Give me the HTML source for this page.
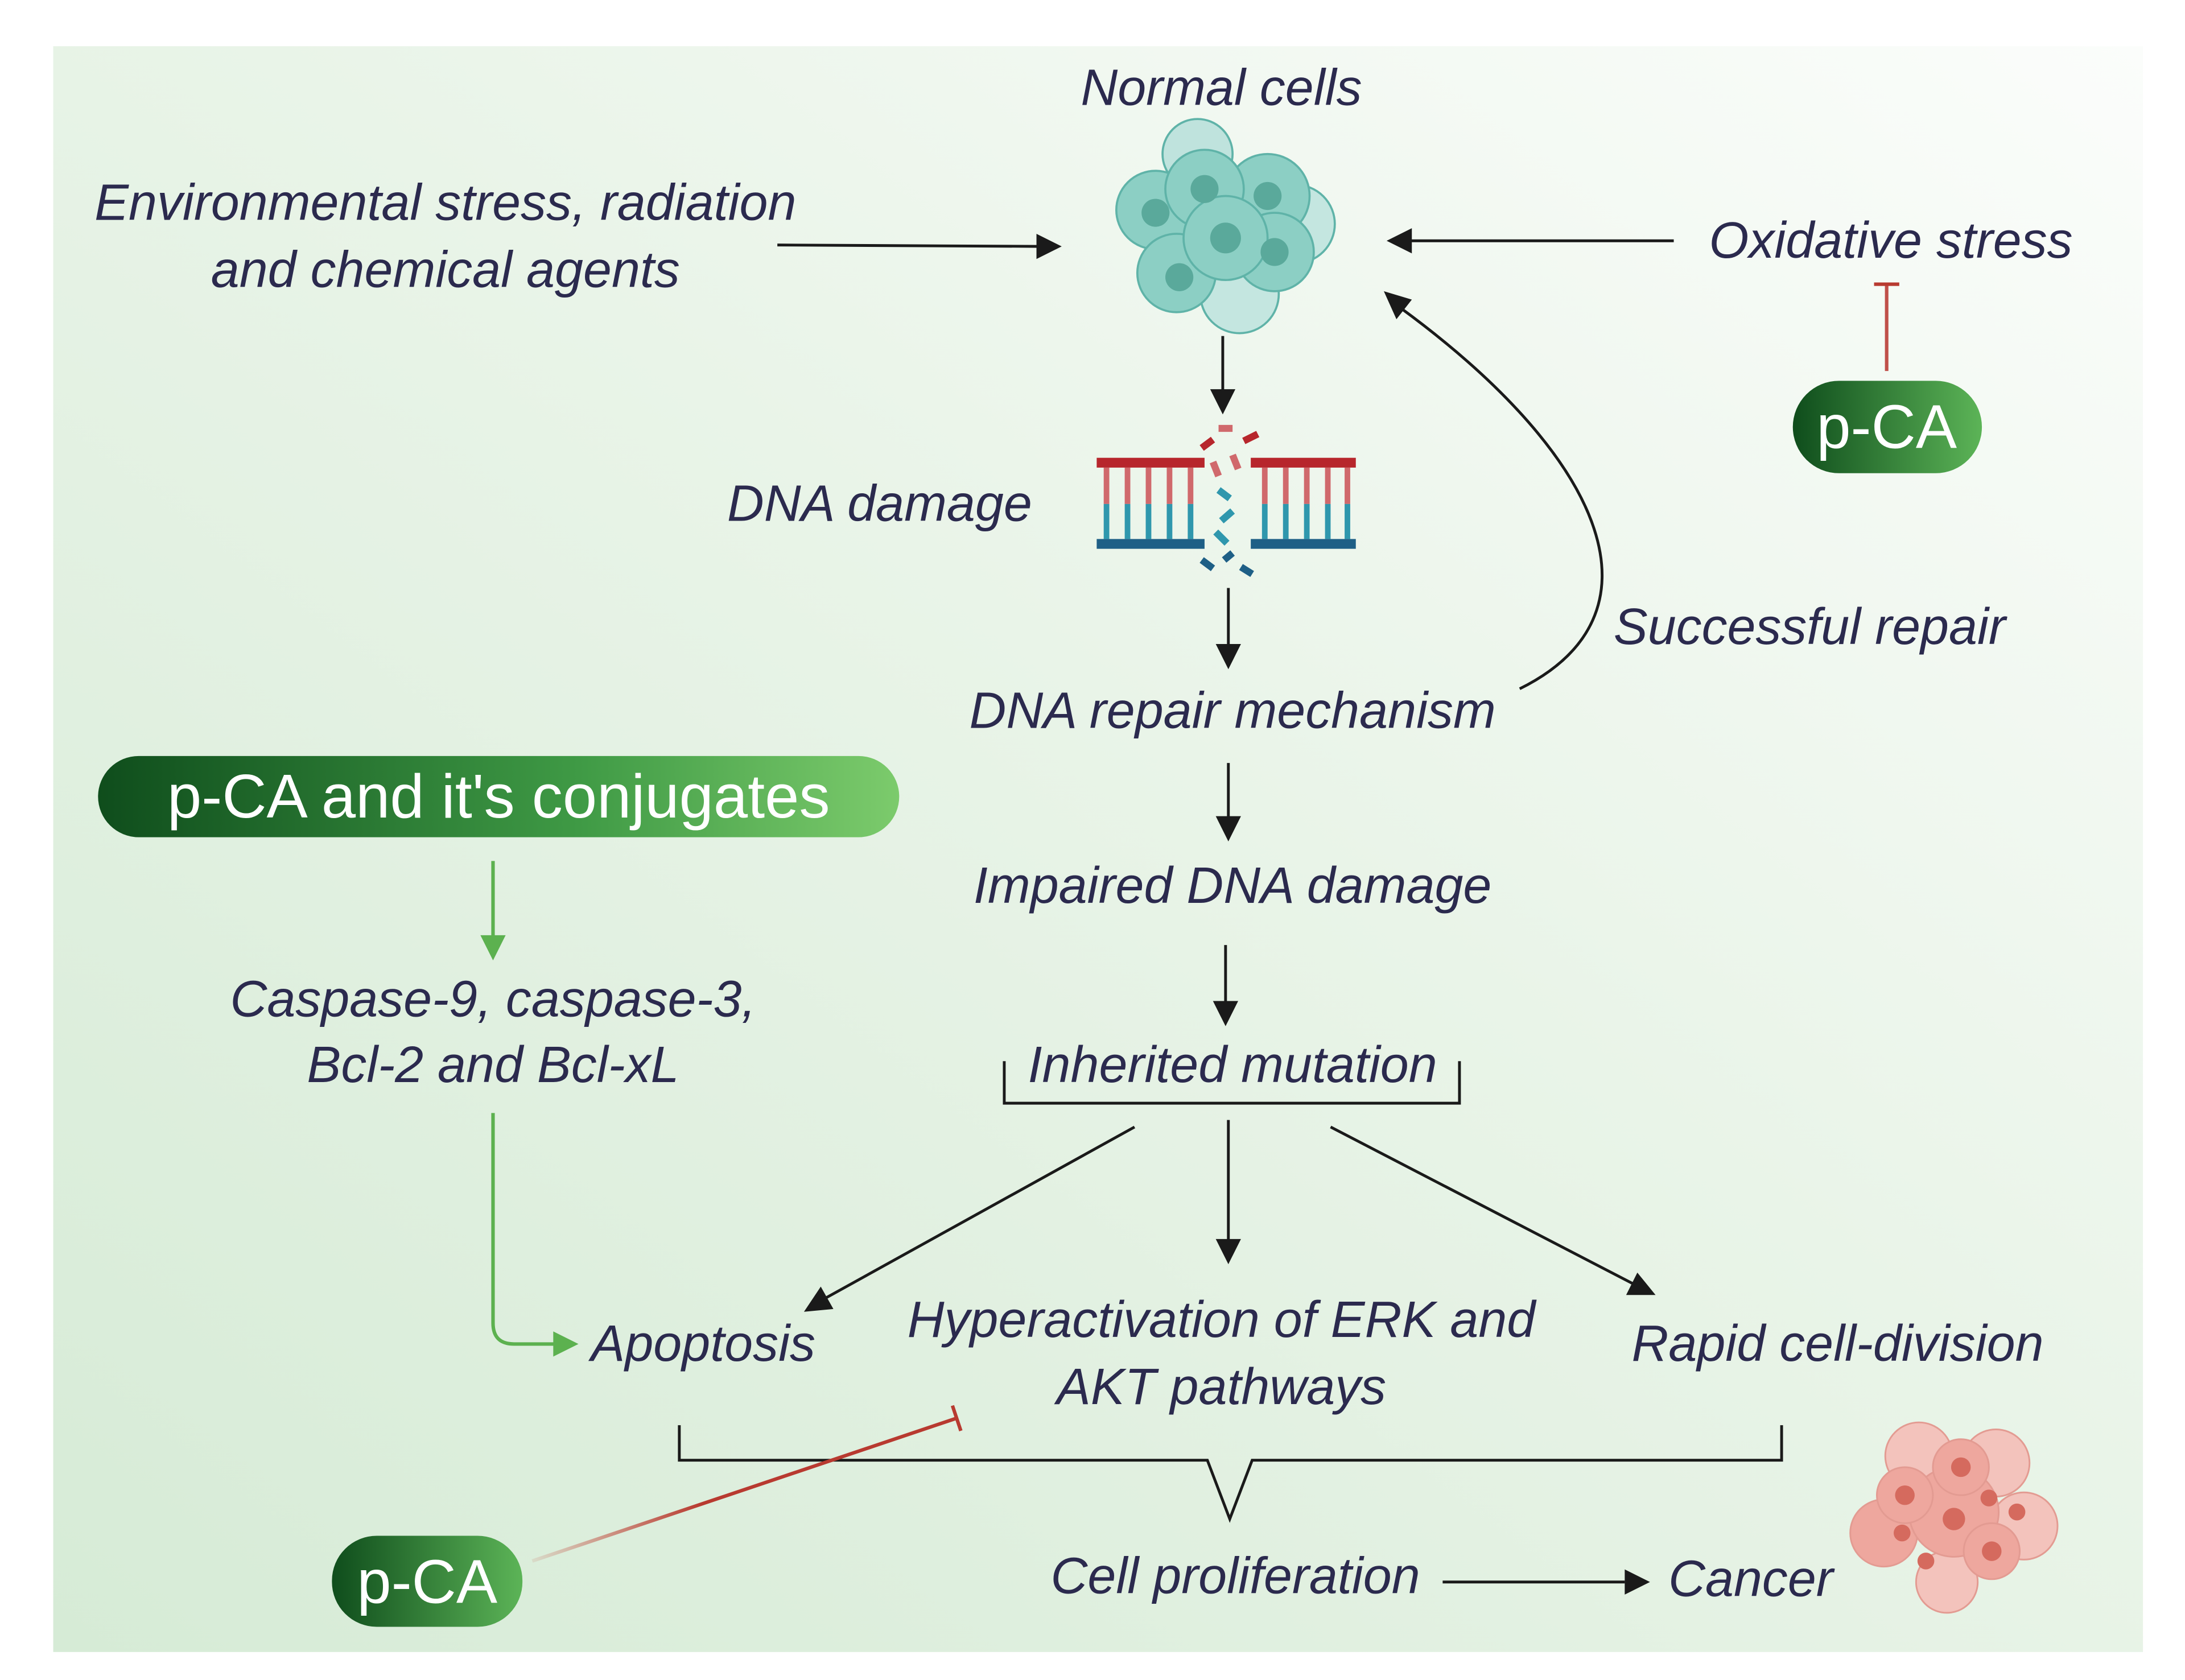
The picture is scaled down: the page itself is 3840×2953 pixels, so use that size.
<!DOCTYPE html>
<html><head><meta charset="utf-8"><style>
html,body{margin:0;padding:0;background:#fff}
svg{display:block}
text{font-family:"Liberation Sans",sans-serif}
.t{font-style:italic;fill:#2b2a4e;font-size:36.5px;text-anchor:middle}
.p{fill:#fff;font-size:44px;text-anchor:middle}
</style></head><body>
<svg width="3840" height="2953" viewBox="0 0 1560 1200" preserveAspectRatio="none" xmlns="http://www.w3.org/2000/svg">
<defs>
<linearGradient id="bg" x1="0" y1="1" x2="1" y2="0">
<stop offset="0" stop-color="#d6ebd6"/><stop offset="0.55" stop-color="#e9f4e8"/><stop offset="1" stop-color="#fbfdfb"/>
</linearGradient>
<linearGradient id="pill" x1="0" y1="0" x2="1" y2="0">
<stop offset="0" stop-color="#0f4d1c"/><stop offset="0.6" stop-color="#3f9a45"/><stop offset="1" stop-color="#7ccb6c"/>
</linearGradient>
<linearGradient id="pill2" x1="0" y1="0" x2="1" y2="0">
<stop offset="0" stop-color="#0f4d1c"/><stop offset="1" stop-color="#5cb457"/>
</linearGradient>
<linearGradient id="red" x1="380" y1="1115" x2="683" y2="1013" gradientUnits="userSpaceOnUse">
<stop offset="0" stop-color="#c0392b" stop-opacity="0.1"/><stop offset="0.4" stop-color="#b83a30"/><stop offset="1" stop-color="#b83a30"/>
</linearGradient>
</defs>
<rect x="38" y="33" width="1492" height="1147" fill="url(#bg)"/>

<g stroke="#1a1a1a" stroke-width="2" fill="none">
<line x1="555" y1="175" x2="742" y2="176"/>
<line x1="1195" y1="172" x2="1006" y2="172"/>
<line x1="873" y1="240" x2="873" y2="280"/>
<line x1="877" y1="420" x2="877" y2="462"/>
<line x1="877" y1="545" x2="877" y2="585"/>
<line x1="875" y1="675" x2="875" y2="717"/>
<line x1="877" y1="800" x2="877" y2="887"/>
<line x1="810" y1="805" x2="588" y2="928"/>
<line x1="950" y1="805" x2="1166" y2="917"/>
<line x1="1030" y1="1130" x2="1160" y2="1130"/>
<path d="M1085,492 C1190,440 1150,330 1000,220"/>
<path d="M717,758 V788 H1042 V758"/>
<path d="M485,1018 V1043 H862 L878,1085 L894,1043 H1272 V1018"/>
</g>
<g fill="#1a1a1a">
<polygon points="758,176 740,167 740,185"/>
<polygon points="990,172 1008,163 1008,181"/>
<polygon points="873,296 864,278 882,278"/>
<polygon points="877,478 868,460 886,460"/>
<polygon points="877,601 868,583 886,583"/>
<polygon points="875,733 866,715 884,715"/>
<polygon points="877,903 868,885 886,885"/>
<polygon points="574,937 586,919 595,935"/>
<polygon points="1182,925 1161,925 1169,909"/>
<polygon points="1178,1130 1160,1121 1160,1139"/>
<polygon points="988,208 1008,214 997,228"/>
</g>

<g stroke="#5cb14f" stroke-width="2.5" fill="none">
<line x1="352" y1="615" x2="352" y2="670"/>
<path d="M352,795 V945 Q352,960 367,960 H397"/>
</g>
<g fill="#5cb14f">
<polygon points="352,686 343,668 361,668"/>
<polygon points="413,960 395,951 395,969"/>
</g>

<line x1="380" y1="1115" x2="683" y2="1013" stroke="url(#red)" stroke-width="2.5"/>
<line x1="680" y1="1004" x2="686" y2="1022" stroke="#b83a30" stroke-width="2.5"/>
<line x1="1347" y1="203" x2="1347" y2="265" stroke="#c0504a" stroke-width="2.5"/>
<line x1="1338" y1="203" x2="1356" y2="203" stroke="#b83a30" stroke-width="2.5"/>

<rect x="1280" y="272" width="135" height="66" rx="33" fill="url(#pill2)"/>
<text class="p" x="1347" y="320">p-CA</text>
<rect x="70" y="540" width="572" height="58" rx="29" fill="url(#pill)"/>
<text class="p" x="356" y="584">p-CA and it's conjugates</text>
<rect x="237" y="1097" width="136" height="65" rx="32" fill="url(#pill2)"/>
<text class="p" x="305" y="1145">p-CA</text>

<g stroke="#5fb3a8" stroke-width="1.5">
<circle cx="855" cy="110" r="25" fill="#bfe3dd"/>
<circle cx="925" cy="160" r="28" fill="#c4e6e0"/>
<circle cx="885" cy="210" r="28" fill="#c4e6e0"/>
<circle cx="825" cy="150" r="28" fill="#8ccfc4"/>
<circle cx="905" cy="140" r="30" fill="#8ccfc4"/>
<circle cx="860" cy="135" r="28" fill="#8ccfc4"/>
<circle cx="910" cy="180" r="28" fill="#8ccfc4"/>
<circle cx="840" cy="195" r="28" fill="#8ccfc4"/>
<circle cx="875" cy="170" r="30" fill="#8ccfc4"/>
</g>
<g fill="#5aa99b">
<circle cx="860" cy="135" r="10"/><circle cx="905" cy="140" r="10"/><circle cx="825" cy="152" r="10"/>
<circle cx="875" cy="170" r="11"/><circle cx="910" cy="180" r="10"/><circle cx="842" cy="198" r="10"/>
</g>

<g>
<rect x="783" y="327" width="77" height="7" fill="#b7262c"/>
<rect x="893" y="327" width="75" height="7" fill="#b7262c"/>
<rect x="783" y="385" width="77" height="7" fill="#1e5f86"/>
<rect x="893" y="385" width="75" height="7" fill="#1e5f86"/>
<g stroke-width="4">
<g stroke="#d0696c">
<line x1="790" y1="334" x2="790" y2="360"/><line x1="805" y1="334" x2="805" y2="360"/><line x1="820" y1="334" x2="820" y2="360"/><line x1="835" y1="334" x2="835" y2="360"/><line x1="850" y1="334" x2="850" y2="360"/>
<line x1="903" y1="334" x2="903" y2="360"/><line x1="918" y1="334" x2="918" y2="360"/><line x1="933" y1="334" x2="933" y2="360"/><line x1="948" y1="334" x2="948" y2="360"/><line x1="962" y1="334" x2="962" y2="360"/>
</g>
<g stroke="#2f97ad">
<line x1="790" y1="360" x2="790" y2="385"/><line x1="805" y1="360" x2="805" y2="385"/><line x1="820" y1="360" x2="820" y2="385"/><line x1="835" y1="360" x2="835" y2="385"/><line x1="850" y1="360" x2="850" y2="385"/>
<line x1="903" y1="360" x2="903" y2="385"/><line x1="918" y1="360" x2="918" y2="385"/><line x1="933" y1="360" x2="933" y2="385"/><line x1="948" y1="360" x2="948" y2="385"/><line x1="962" y1="360" x2="962" y2="385"/>
</g>
</g>
<g stroke-width="5">
<line x1="858" y1="320" x2="866" y2="314" stroke="#b7262c"/><line x1="870" y1="306" x2="880" y2="306" stroke="#d0696c"/><line x1="888" y1="315" x2="898" y2="310" stroke="#b7262c"/>
<line x1="866" y1="330" x2="870" y2="340" stroke="#d0696c"/><line x1="880" y1="325" x2="884" y2="335" stroke="#d0696c"/>
<line x1="870" y1="350" x2="878" y2="356" stroke="#2f97ad"/><line x1="880" y1="365" x2="872" y2="372" stroke="#2f97ad"/><line x1="868" y1="380" x2="876" y2="388" stroke="#2f97ad"/>
<line x1="858" y1="400" x2="866" y2="406" stroke="#1e5f86"/><line x1="874" y1="400" x2="880" y2="395" stroke="#1e5f86"/><line x1="886" y1="405" x2="894" y2="410" stroke="#1e5f86"/>
</g>
</g>

<g stroke="#e39b92" stroke-width="1.2">
<circle cx="1370" cy="1040" r="24" fill="#f3c3bc"/>
<circle cx="1425" cy="1045" r="24" fill="#f3c3bc"/>
<circle cx="1345" cy="1095" r="24" fill="#eea79e"/>
<circle cx="1445" cy="1090" r="24" fill="#f3c3bc"/>
<circle cx="1390" cy="1130" r="22" fill="#f3c3bc"/>
<circle cx="1395" cy="1080" r="32" fill="#eea79e"/>
<circle cx="1360" cy="1068" r="20" fill="#eea79e"/>
<circle cx="1422" cy="1108" r="20" fill="#eea79e"/>
<circle cx="1400" cy="1048" r="20" fill="#eea79e"/>
</g>
<g fill="#d56a5e">
<circle cx="1395" cy="1085" r="8"/><circle cx="1360" cy="1068" r="7"/><circle cx="1400" cy="1048" r="7"/>
<circle cx="1422" cy="1108" r="7"/><circle cx="1358" cy="1095" r="6"/><circle cx="1440" cy="1080" r="6"/>
<circle cx="1375" cy="1115" r="6"/><circle cx="1420" cy="1070" r="6"/>
</g>

<text class="t" x="872" y="75">Normal cells</text>
<text class="t" x="318" y="157">Environmental stress, radiation</text>
<text class="t" x="318" y="205">and chemical agents</text>
<text class="t" x="1350" y="184">Oxidative stress</text>
<text class="t" x="628" y="372">DNA damage</text>
<text class="t" x="1292" y="460">Successful repair</text>
<text class="t" x="880" y="520">DNA repair mechanism</text>
<text class="t" x="880" y="645">Impaired DNA damage</text>
<text class="t" x="880" y="773">Inherited mutation</text>
<text class="t" x="352" y="726">Caspase-9, caspase-3,</text>
<text class="t" x="352" y="773">Bcl-2 and Bcl-xL</text>
<text class="t" x="502" y="972">Apoptosis</text>
<text class="t" x="872" y="955">Hyperactivation of  ERK and</text>
<text class="t" x="872" y="1003">AKT pathways</text>
<text class="t" x="1312" y="972">Rapid cell-division</text>
<text class="t" x="882" y="1138">Cell proliferation</text>
<text class="t" x="1250" y="1140">Cancer</text>
</svg>
</body></html>
